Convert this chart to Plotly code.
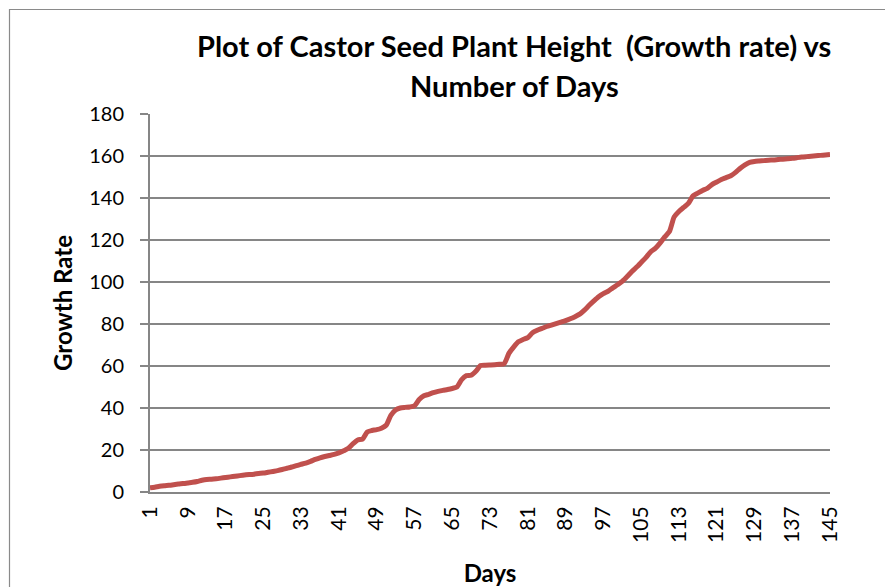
import plotly.graph_objects as go

days = list(range(1, 146))
growth = [
    2.0, 2.3, 2.7, 3.0, 3.2, 3.5, 3.8, 4.0, 4.3, 4.6,
    5.0, 5.6, 6.0, 6.1, 6.3, 6.6, 6.9, 7.2, 7.5, 7.8,
    8.1, 8.3, 8.5, 8.8, 9.0, 9.4, 9.8, 10.2, 10.7, 11.3,
    11.9, 12.6, 13.2, 13.8, 14.6, 15.5, 16.3, 16.9, 17.4, 17.9,
    18.6, 19.6, 20.8, 23.0, 24.8, 25.2, 28.6, 29.3, 29.7, 30.4,
    31.8, 36.5, 39.0, 40.0, 40.3, 40.5, 41.0, 44.0, 45.8, 46.5,
    47.3, 47.9, 48.4, 48.8, 49.3, 50.0, 53.5, 55.4, 55.6, 57.5,
    60.2, 60.4, 60.5, 60.6, 60.8, 61.1, 66.0, 69.0, 71.5, 72.6,
    73.5, 75.8, 77.0, 77.9, 78.8, 79.5, 80.2, 80.9, 81.6, 82.5,
    83.5, 84.7, 86.6, 88.9, 91.0, 93.0, 94.5, 95.6, 97.2, 98.7,
    100.3, 102.5, 104.9, 107.0, 109.3, 111.6, 114.3, 116.0, 118.5, 121.5,
    124.0, 131.0, 133.6, 135.5, 137.4, 141.0, 142.3, 143.6, 144.6, 146.4,
    147.6, 148.8, 149.7, 150.6, 152.2, 154.2, 155.8, 157.0, 157.4, 157.6,
    157.8, 158.0, 158.1, 158.3, 158.5, 158.7, 158.9, 159.2, 159.5, 159.7,
    159.9, 160.1, 160.3, 160.5, 160.7,
]
x_ticks = list(range(1, 146, 8))
y_ticks = list(range(0, 181, 20))

title_line1 = "Plot of Castor Seed Plant Height  (Growth rate) vs"
title_line2 = "Number of Days"

FONT = "Lato"
GRID = "#868686"

fig = go.Figure()
fig.add_trace(go.Scatter(
    x=days, y=growth, mode="lines",
    line=dict(color="#C0504D", width=5, shape="spline", smoothing=0.6),
    showlegend=False, hoverinfo="skip",
))

fig.update_layout(
    width=885, height=579,
    margin=dict(l=142, r=63, t=106, b=95),
    paper_bgcolor="white", plot_bgcolor="white",
    font=dict(family=FONT, color="black"),
    xaxis=dict(
        range=[1, 145], tickvals=x_ticks, ticktext=[str(v) for v in x_ticks],
        tickangle=-90, tickfont=dict(size=21, family=FONT), ticklabelstandoff=4,
        showgrid=False, zeroline=False, showline=True, linecolor=GRID, linewidth=2,
        ticks="", automargin=False,
        title=dict(text="<b>Days</b>", font=dict(size=24, family=FONT), standoff=24),
    ),
    yaxis=dict(
        range=[0, 180], tickvals=y_ticks, tickfont=dict(size=20, family=FONT),
        showgrid=True, gridcolor=GRID, gridwidth=1.5, zeroline=False,
        showline=True, linecolor=GRID, linewidth=2, automargin=False,
        ticks="outside", ticklen=8, tickcolor=GRID, tickwidth=1.5, ticklabelstandoff=12,
        title=dict(text="<b>Growth Rate</b>", font=dict(size=24, family=FONT), standoff=10),
    ),
    annotations=[
        dict(text="<b>" + title_line1 + "</b>", xref="paper", yref="paper",
             x=(514 - 150) / 680, y=(492 - 46) / 378, showarrow=False,
             xanchor="center", yanchor="middle", font=dict(size=29, family=FONT)),
        dict(text="<b>" + title_line2 + "</b>", xref="paper", yref="paper",
             x=(514 - 150) / 680, y=(492 - 86) / 378, showarrow=False,
             xanchor="center", yanchor="middle", font=dict(size=29, family=FONT)),
    ],
    shapes=[
        dict(type="rect", xref="paper", yref="paper",
             x0=(9.5 - 150) / 680, x1=(905 - 150) / 680,
             y0=(492 - 600) / 378, y1=(492 - 9.5) / 378,
             line=dict(color="#8a8a8a", width=1.2), fillcolor="rgba(0,0,0,0)", layer="below"),
    ],
)

fig.write_html("out.html")
